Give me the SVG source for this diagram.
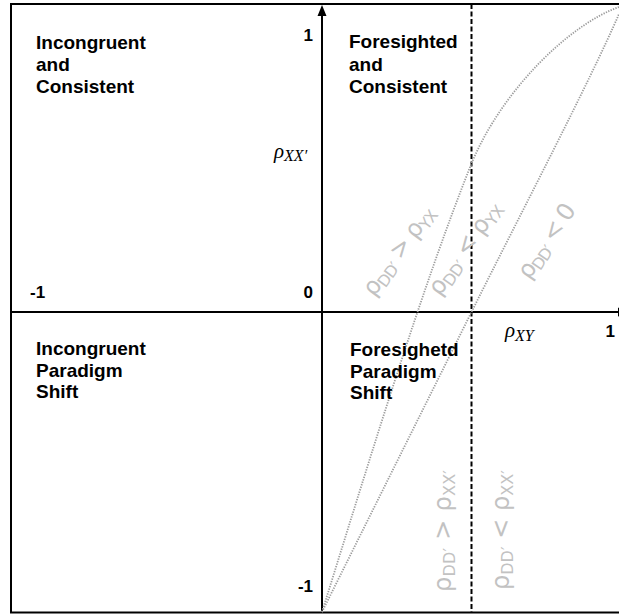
<svg xmlns="http://www.w3.org/2000/svg" width="619" height="614" viewBox="0 0 619 614">
  <style>
    .frame { fill: none; stroke: #000; stroke-width: 2; }
    .axis { stroke: #000; stroke-width: 2; fill: none; }
    .split { stroke: #000; stroke-width: 2; stroke-dasharray: 5 2.5; fill: none; }
    .curve { stroke: #9c9c9c; stroke-width: 1.8; stroke-dasharray: 1.3 1.3; fill: none; }
    .quad { font-family: "Liberation Sans", Arial, sans-serif; font-weight: bold; font-size: 19px; fill: #000; }
    .tick { font-family: "Liberation Sans", Arial, sans-serif; font-weight: bold; font-size: 17px; fill: #000; }
    .math { font-family: "Liberation Serif", "DejaVu Serif", serif; font-style: italic; font-size: 21px; fill: #000; }
    .region { font-family: "DejaVu Sans", "Liberation Sans", sans-serif; font-size: 24px; fill: #c2c2c2; }
  </style>

  <!-- outer frame -->
  <rect class="frame" x="11" y="4" width="620" height="608.5"/>

  <g id="connectors">
    <!-- horizontal axis: rho_XY -->
    <line class="axis" x1="11" y1="312" x2="620" y2="312"/>
    <polygon points="630,312 618,307.5 618,316.5" fill="#000"/>
    <!-- vertical axis: rho_XX' -->
    <line class="axis" x1="322" y1="612" x2="322" y2="14"/>
    <polygon points="322,5 317.5,16 326.5,16" fill="#000"/>
    <!-- dashed divider -->
    <line class="split" x1="471.5" y1="4" x2="471.5" y2="612"/>
    <!-- boundary curves -->
    <path class="curve" d="M322,612 C372,452 421.7,288 471.7,163 C501.7,91 569,24.5 619,7"/>
    <path class="curve" d="M322,612 L471.5,312 C521.5,212 589,83 619,14"/>
  </g>

  <g id="quadrant-incongruent-consistent">
    <text class="quad" x="36" y="49">Incongruent</text>
    <text class="quad" x="36" y="71">and</text>
    <text class="quad" x="36" y="93">Consistent</text>
  </g>
  <g id="quadrant-foresighted-consistent">
    <text class="quad" x="349" y="48">Foresighted</text>
    <text class="quad" x="349" y="70.5">and</text>
    <text class="quad" x="349" y="93">Consistent</text>
  </g>
  <g id="quadrant-incongruent-shift">
    <text class="quad" x="36" y="355">Incongruent</text>
    <text class="quad" x="36" y="376.5">Paradigm</text>
    <text class="quad" x="36" y="398">Shift</text>
  </g>
  <g id="quadrant-foresighted-shift">
    <text class="quad" x="350" y="356">Foresighetd</text>
    <text class="quad" x="350" y="377.5">Paradigm</text>
    <text class="quad" x="350" y="399">Shift</text>
  </g>

  <g id="ticks">
    <text class="tick" x="313" y="41" text-anchor="end">1</text>
    <text class="tick" x="313" y="298" text-anchor="end">0</text>
    <text class="tick" x="30" y="298">-1</text>
    <text class="tick" x="313" y="592" text-anchor="end">-1</text>
    <text class="tick" x="615" y="337" text-anchor="end">1</text>
  </g>

  <g id="axis-labels">
    <text class="math" x="274" y="158">ρ<tspan font-size="16" dy="3">XX′</tspan></text>
    <text class="math" x="505" y="337">ρ<tspan font-size="16" dy="4">XY</tspan></text>
  </g>

  <g id="region-labels">
    <text class="region" transform="translate(400,251.5) rotate(-54)" y="6" text-anchor="middle" textLength="105">ρ<tspan font-size="16" dy="4">DD′</tspan><tspan dy="-4"> &gt; ρ</tspan><tspan font-size="16" dy="4">YX</tspan></text>
    <text class="region" transform="translate(466,249) rotate(-55)" y="6" text-anchor="middle" textLength="109">ρ<tspan font-size="16" dy="4">DD′</tspan><tspan dy="-4"> &lt; ρ</tspan><tspan font-size="16" dy="4">YX</tspan></text>
    <text class="region" transform="translate(548,242) rotate(-56)" y="6" text-anchor="middle" textLength="85">ρ<tspan font-size="16" dy="4">DD′</tspan><tspan dy="-4"> &lt; 0</tspan></text>
    <text class="region" transform="translate(445,531) rotate(-90)" y="6" text-anchor="middle" textLength="122">ρ<tspan font-size="16" dy="4">DD′</tspan><tspan dy="-4"> &gt; ρ</tspan><tspan font-size="16" dy="4">XX′</tspan></text>
    <text class="region" transform="translate(503,530) rotate(-90)" y="6" text-anchor="middle" textLength="120">ρ<tspan font-size="16" dy="4">DD′</tspan><tspan dy="-4"> &lt; ρ</tspan><tspan font-size="16" dy="4">XX′</tspan></text>
  </g>
</svg>
